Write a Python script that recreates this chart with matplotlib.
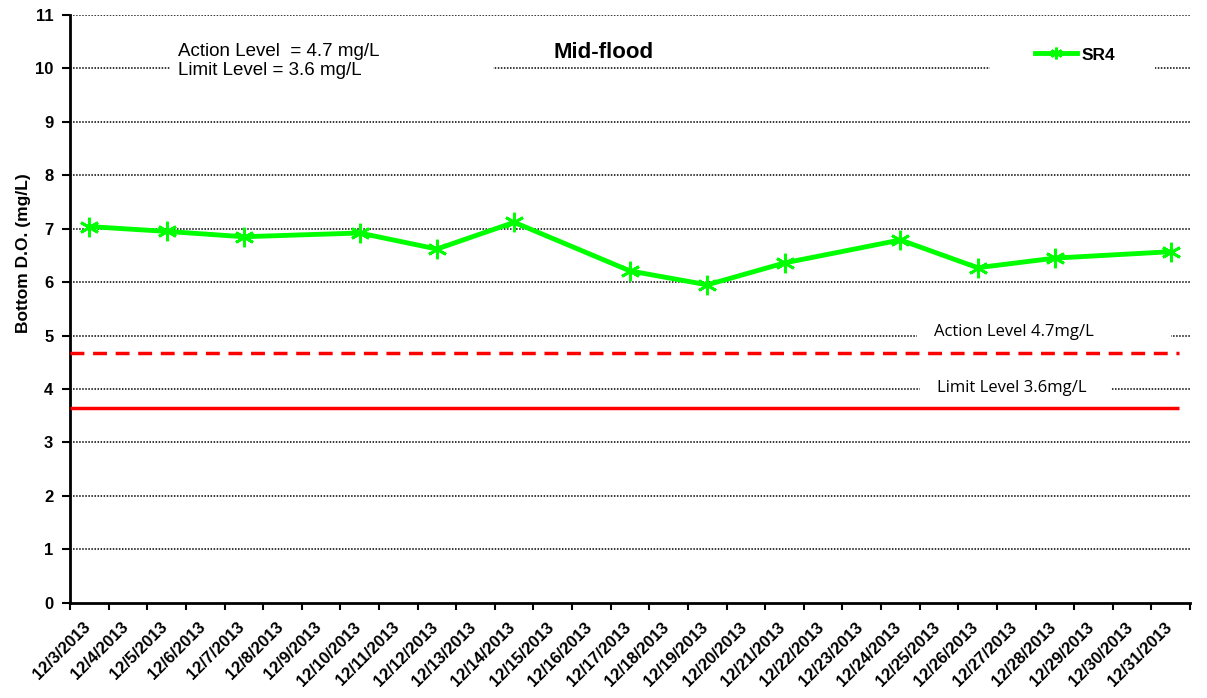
import matplotlib
matplotlib.use('Agg')
import matplotlib.pyplot as plt
from matplotlib.patches import Rectangle
import numpy as np

# dates on the category axis, 12/3 to 12/31
dates = ['12/{}/2013'.format(d) for d in range(3, 32)]
sample_dates = ['12/3/2013', '12/5/2013', '12/7/2013', '12/10/2013', '12/12/2013',
                '12/14/2013', '12/17/2013', '12/19/2013', '12/21/2013', '12/24/2013',
                '12/26/2013', '12/28/2013', '12/31/2013']
sr4 = [7.04, 6.95, 6.85, 6.92, 6.62, 7.12, 6.21, 5.95, 6.36, 6.79, 6.27, 6.45, 6.57]
action_level = 4.68
limit_level = 3.64
y_ticks = list(range(0, 12))

plt.rcParams['font.family'] = ['Liberation Sans', 'DejaVu Sans']

fig = plt.figure(figsize=(12.07, 6.98), dpi=100)
ax = fig.add_axes([0.058, 0.1365, 0.928, 0.842])

x_pos = [dates.index(d) for d in sample_dates]

# horizontal dotted grid
for yv in y_ticks[1:]:
    ax.axhline(yv, color='black', linestyle=(0, (1, 1)), linewidth=1.1, zorder=1)

# action / limit lines
ax.hlines(action_level, -0.5, 28.2, colors='#ff0000', linestyles=(0, (4, 2.5)), linewidth=2.5, zorder=3)
ax.hlines(limit_level, -0.5, 28.2, colors='#ff0000', linewidth=2.5, zorder=3)

ax.plot(x_pos, sr4, color='#00ff00', linewidth=3.5, marker=(6, 2, 0), markersize=14,
        markeredgewidth=2, markeredgecolor='#00ff00', label='SR4', zorder=4)

ax.set_xlim(-0.5, len(dates) - 0.5)
ax.set_ylim(0, 11)
ax.set_yticks(y_ticks)
ax.set_yticklabels([str(v) for v in y_ticks], fontsize=12, fontweight='bold')
# boundary ticks, labels slightly left of each category centre like the original
ax.set_xticks(np.arange(-0.5, len(dates), 1.0))
ax.set_xticklabels([])
ax.set_xticks(np.arange(len(dates)) - 0.18, minor=True)
ax.set_xticklabels(dates, minor=True, rotation=45, ha='right', va='top',
                   rotation_mode='anchor', fontsize=12, fontweight='bold')
ax.tick_params(axis='x', which='minor', length=0, pad=12)
ax.tick_params(axis='x', which='major', length=5, width=1.5, direction='out')
ax.tick_params(axis='y', length=6, width=1.5, direction='out', pad=6)

for side in ['top', 'right']:
    ax.spines[side].set_visible(False)
for side in ['left', 'bottom']:
    ax.spines[side].set_linewidth(2)

ax.set_ylabel('Bottom D.O. (mg/L)', fontsize=12.5, fontweight='bold')
ax.yaxis.set_label_coords(-0.035, 0.594)

# white box behind the level note in the top left
ax.add_patch(Rectangle((0.0893, 0.88), 0.2886, 0.10, transform=ax.transAxes,
                       facecolor='white', edgecolor='none', zorder=2))
ax.text(0.096, 0.922, 'Action Level  = 4.7 mg/L\nLimit Level = 3.6 mg/L', transform=ax.transAxes,
        fontsize=13.5, va='center', ha='left', linespacing=1.15, zorder=5)
ax.text(0.476, 0.937, 'Mid-flood', transform=ax.transAxes, fontsize=16, fontweight='bold',
        ha='center', va='center', zorder=5)

ax.add_patch(Rectangle((0.7563, 0.44), 0.2268, 0.04, transform=ax.transAxes,
                       facecolor='white', edgecolor='none', zorder=2))
ax.text(0.843, 0.461, 'Action Level 4.7mg/L', transform=ax.transAxes, fontsize=12,
        ha='center', va='center', family=['Open Sans', 'DejaVu Sans'], zorder=5)
ax.add_patch(Rectangle((0.759, 0.345), 0.1705, 0.04, transform=ax.transAxes,
                       facecolor='white', edgecolor='none', zorder=2))
ax.text(0.841, 0.366, 'Limit Level 3.6mg/L', transform=ax.transAxes, fontsize=12,
        ha='center', va='center', family=['Open Sans', 'DejaVu Sans'], zorder=5)

# legend sits on a white box that breaks the 10 gridline
ax.add_patch(Rectangle((0.8214, 0.895), 0.1473, 0.07, transform=ax.transAxes,
                       facecolor='white', edgecolor='none', zorder=2))
leg = ax.legend(loc='center left', bbox_to_anchor=(0.8616, 0.932), frameon=False,
                prop={'weight': 'bold', 'size': 12.5}, handlelength=2.4, handletextpad=0.3,
                borderpad=0, borderaxespad=0, markerscale=0.6)

fig.savefig('out.png', dpi=100)
